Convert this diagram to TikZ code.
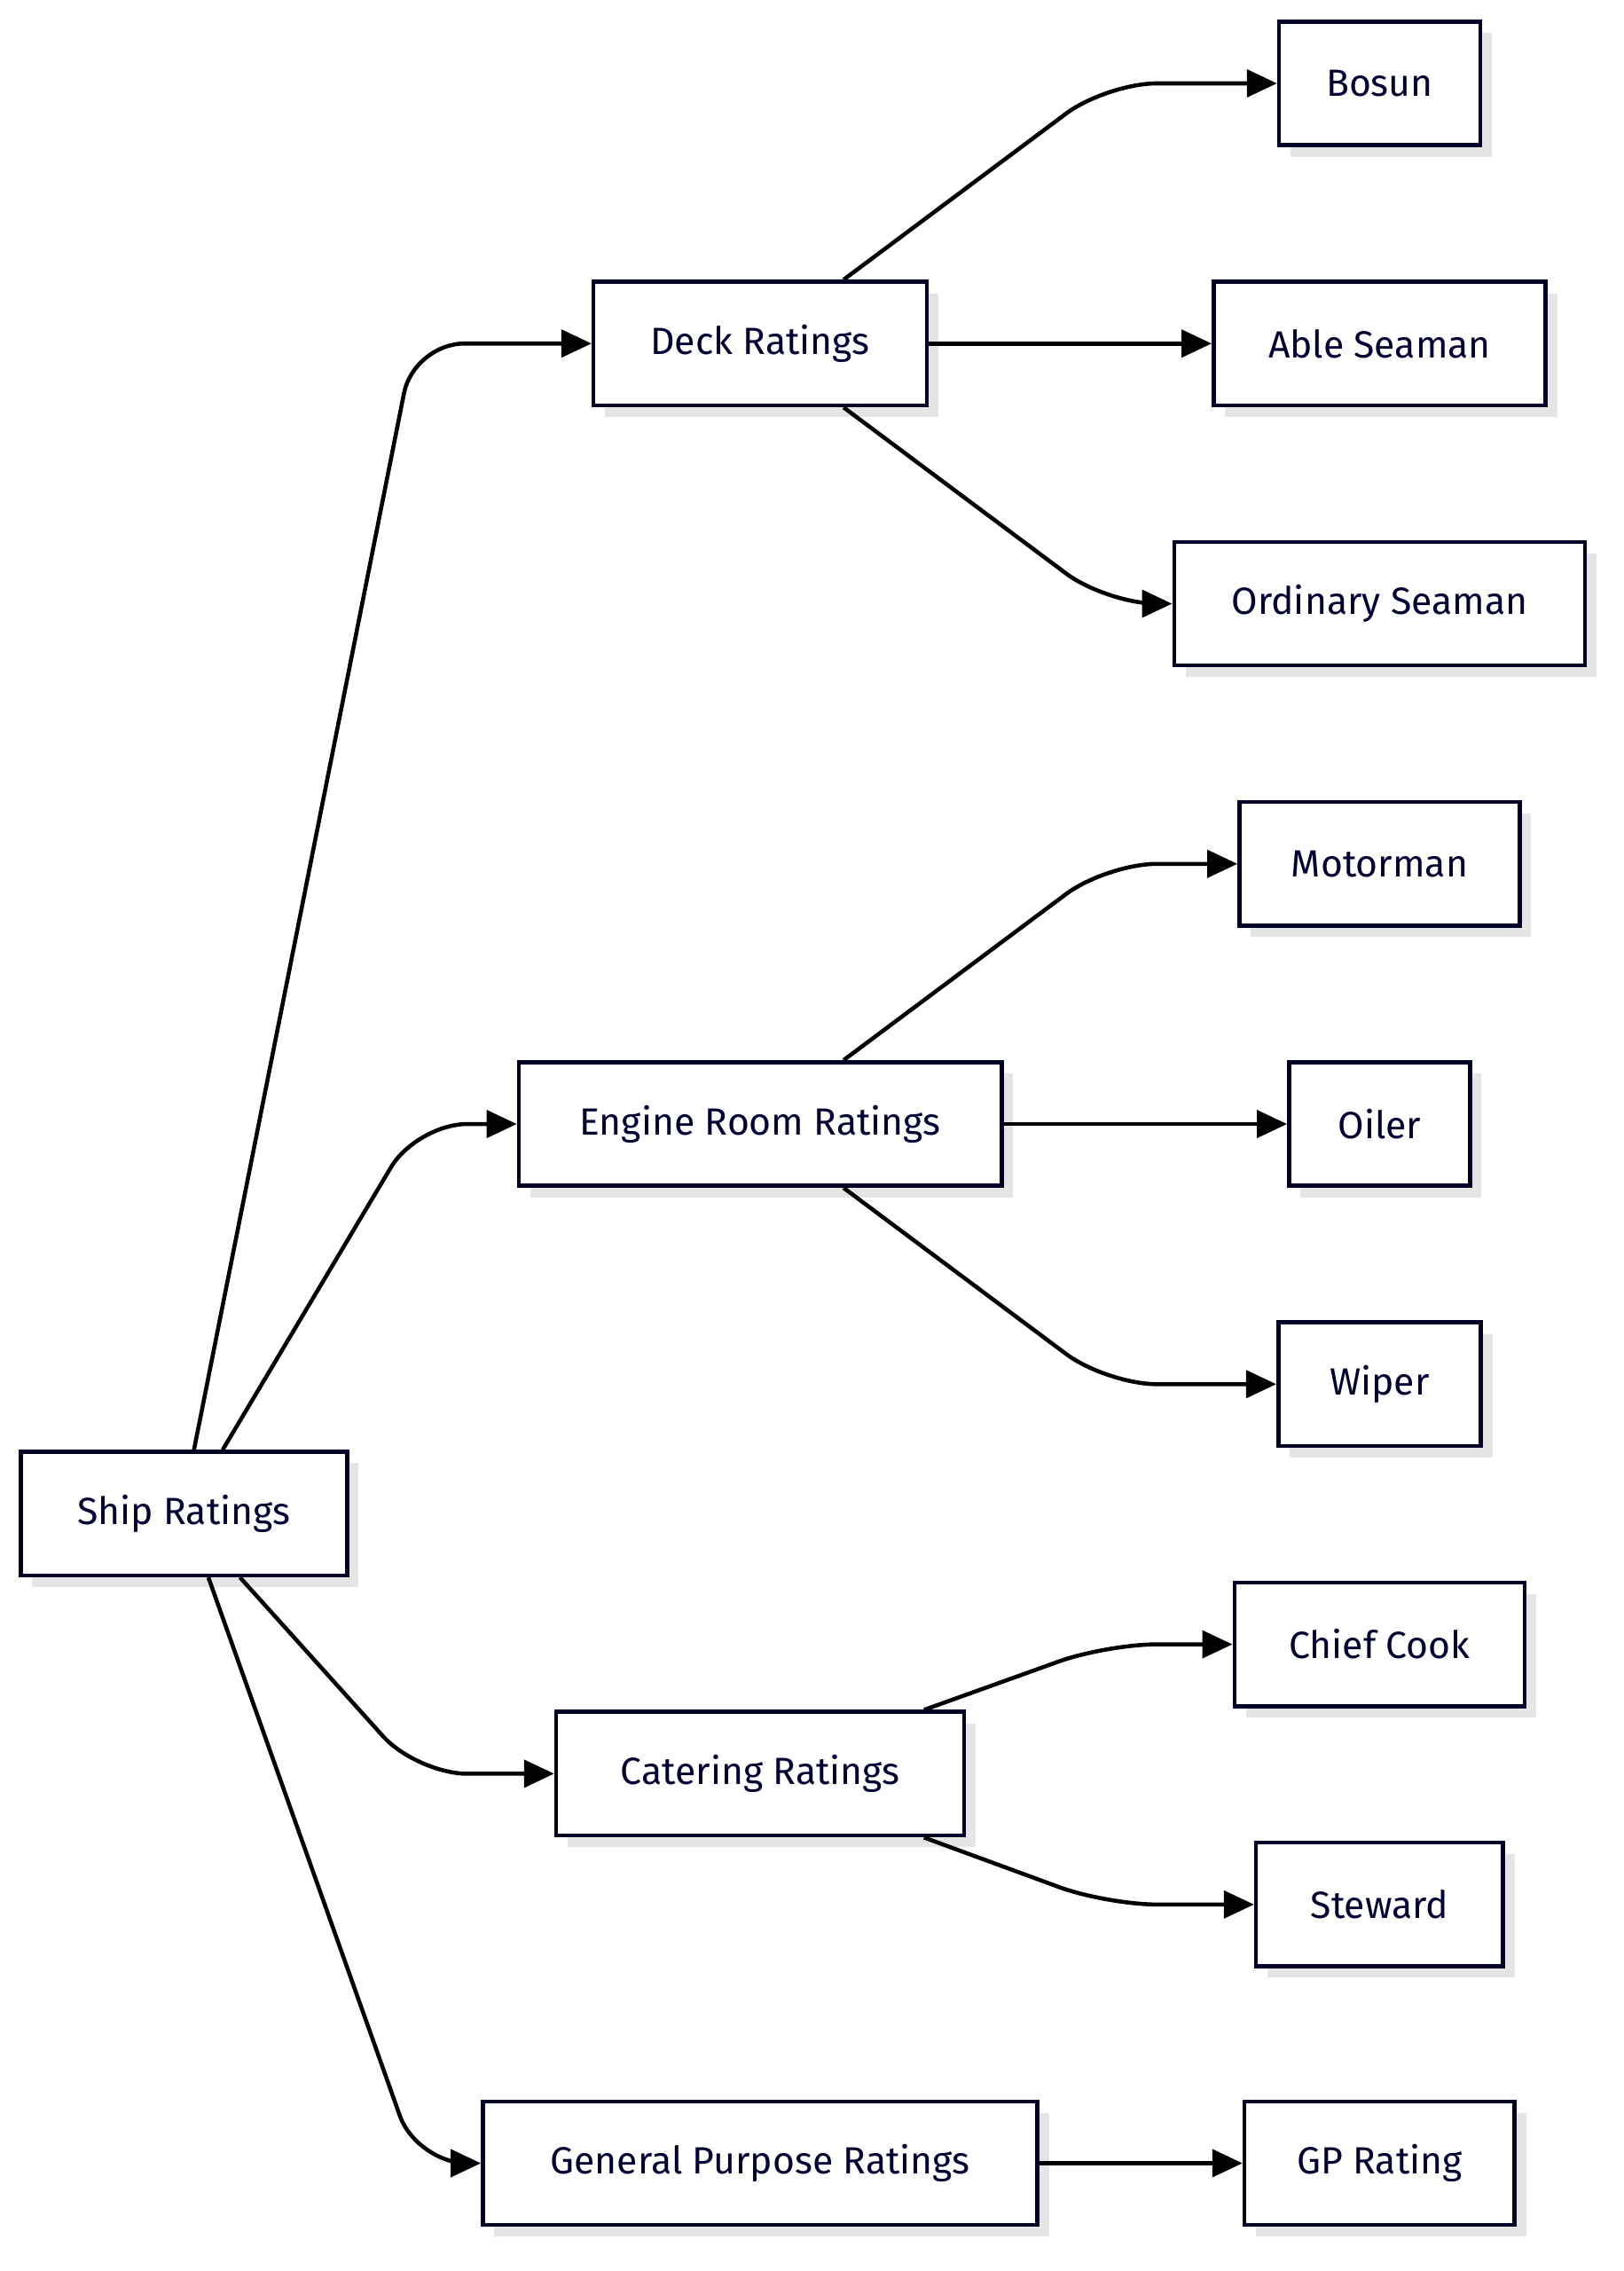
\documentclass[tikz,border=0pt]{standalone}
\usepackage{fontspec}
\setmainfont{Fira Sans}
\usetikzlibrary{arrows.meta,shadows}

\tikzset{
  box/.style={draw=black!85!blue, line width=1.6pt, fill=white, minimum height=1.72cm,
    inner xsep=0pt, text=black!80!blue, font=\fontsize{15}{18}\selectfont,
    drop shadow={shadow xshift=0.16cm, shadow yshift=-0.16cm, fill=black!10, opacity=1}},
  arr/.style={line width=1.6pt, rounded corners=0.7cm, -{Triangle[length=0.42cm,width=0.38cm]}}
}

\begin{document}
\begin{tikzpicture}[x=0.02cm, y=-0.02cm]
    \useasboundingbox (0,0) rectangle (1130,1580);

    % first level
    \node[box, minimum width=4.54cm] (ship) at (128,1053) {Ship Ratings};
    \node[box, minimum width=4.64cm] (deck) at (529,239) {Deck Ratings};
    \node[box, minimum width=6.72cm] (engine) at (529,782) {Engine Room Ratings};
    \node[box, minimum width=5.68cm] (catering) at (529,1234) {Catering Ratings};
    \node[box, minimum width=7.72cm] (gp) at (529,1505) {General Purpose Ratings};

    % second level
    \node[box, minimum width=2.8cm] (bosun) at (960,58) {Bosun};
    \node[box, minimum width=4.62cm] (able) at (960,239) {Able Seaman};
    \node[box, minimum width=5.72cm] (ordinary) at (960,420) {Ordinary Seaman};
    \node[box, minimum width=3.9cm] (motorman) at (960,601) {Motorman};
    \node[box, minimum width=2.52cm] (oiler) at (960,782) {Oiler};
    \node[box, minimum width=2.82cm] (wiper) at (960,963) {Wiper};
    \node[box, minimum width=4.04cm] (chief) at (960,1144) {Chief Cook};
    \node[box, minimum width=3.44cm] (steward) at (960,1325) {Steward};
    \node[box, minimum width=3.76cm] (gprating) at (960,1505) {GP Rating};

    % connectors
    \draw[arr] ([xshift=0.14cm]ship.north) -- (288,239) -- (deck.west);
    \draw[arr] ([xshift=0.54cm]ship.north) -- (290,782) -- (engine.west);
    \draw[arr] ([xshift=0.78cm]ship.south) -- (290,1234) -- (catering.west);
    \draw[arr] ([xshift=0.34cm]ship.south) -- (290,1505) -- (gp.west);

    \draw[arr] ([xshift=1.16cm]deck.north) -- (770,58) -- (bosun.west);
    \draw[arr] (deck.east) -- (able.west);
    \draw[arr] ([xshift=1.16cm]deck.south) -- (770,420) -- (ordinary.west);

    \draw[arr] ([xshift=1.16cm]engine.north) -- (770,601) -- (motorman.west);
    \draw[arr] (engine.east) -- (oiler.west);
    \draw[arr] ([xshift=1.16cm]engine.south) -- (770,963) -- (wiper.west);

    \draw[arr] ([xshift=2.28cm]catering.north) -- (770,1144) -- (chief.west);
    \draw[arr] ([xshift=2.28cm]catering.south) -- (770,1325) -- (steward.west);

    \draw[arr] (gp.east) -- (gprating.west);
\end{tikzpicture}
\end{document}
